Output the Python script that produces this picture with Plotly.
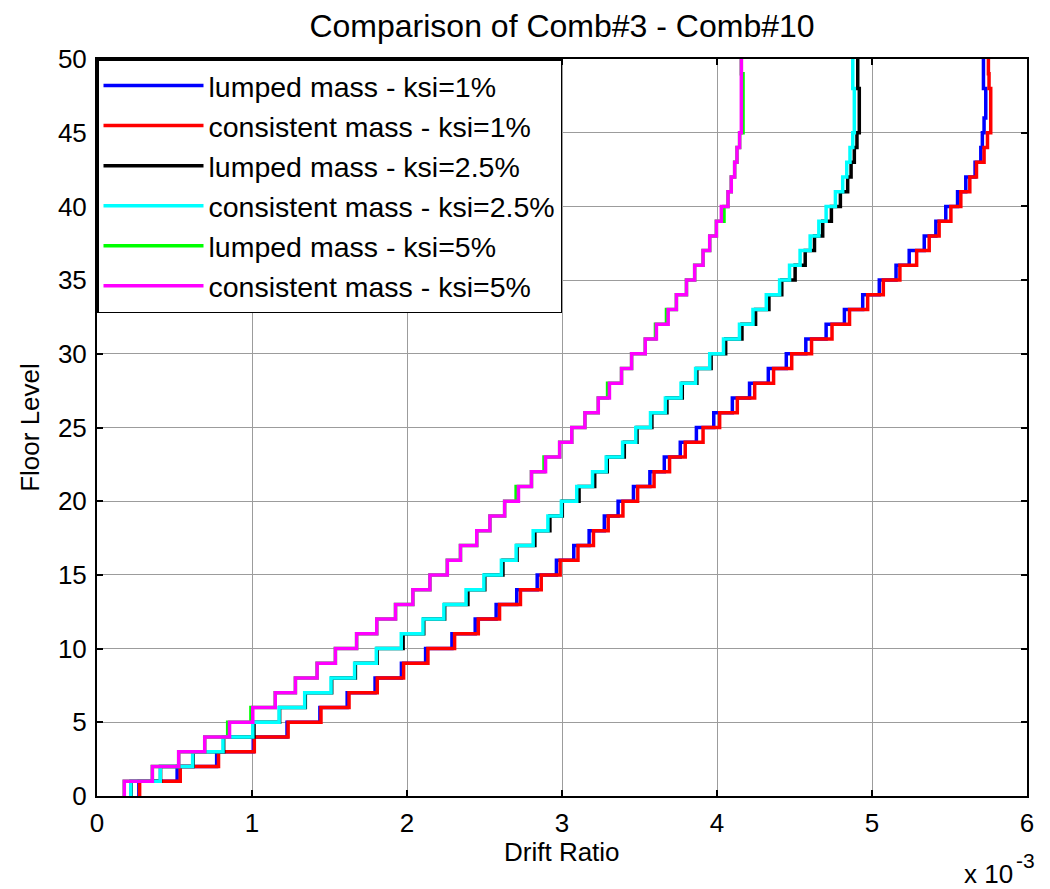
import plotly.graph_objects as go

# Story drift ratios (units of 1e-3) for stories 1..50
stories = list(range(1, 51))

lumped_1 = [0.270, 0.517, 0.772, 1.008, 1.226, 1.438, 1.614, 1.794, 1.964, 2.120,
            2.290, 2.440, 2.575, 2.708, 2.840, 2.964, 3.076, 3.175, 3.273, 3.362,
            3.461, 3.567, 3.660, 3.763, 3.867, 3.979, 4.099, 4.210, 4.331, 4.447,
            4.573, 4.704, 4.822, 4.940, 5.047, 5.155, 5.240, 5.337, 5.412, 5.476,
            5.552, 5.605, 5.665, 5.702, 5.712, 5.723, 5.734, 5.734, 5.719, 5.719]

consistent_1 = [0.275, 0.537, 0.784, 1.015, 1.233, 1.445, 1.626, 1.808, 1.978, 2.135,
                2.307, 2.460, 2.597, 2.732, 2.866, 2.988, 3.103, 3.203, 3.298, 3.393,
                3.488, 3.594, 3.694, 3.795, 3.910, 4.017, 4.131, 4.243, 4.365, 4.482,
                4.610, 4.742, 4.855, 4.972, 5.073, 5.180, 5.288, 5.369, 5.433, 5.509,
                5.573, 5.631, 5.674, 5.723, 5.745, 5.766, 5.766, 5.766, 5.755, 5.751]

lumped_25 = [0.220, 0.410, 0.620, 0.817, 1.013, 1.178, 1.344, 1.514, 1.667, 1.807,
             1.975, 2.108, 2.243, 2.393, 2.502, 2.619, 2.710, 2.825, 2.922, 3.002,
             3.110, 3.211, 3.292, 3.402, 3.484, 3.580, 3.677, 3.776, 3.870, 3.962,
             4.056, 4.161, 4.249, 4.335, 4.418, 4.504, 4.569, 4.629, 4.682, 4.738,
             4.796, 4.843, 4.865, 4.886, 4.903, 4.918, 4.918, 4.918, 4.908, 4.908]

consistent_25 = [0.218, 0.408, 0.617, 0.813, 1.005, 1.175, 1.340, 1.510, 1.662, 1.802,
                 1.963, 2.103, 2.238, 2.381, 2.496, 2.609, 2.704, 2.814, 2.909, 2.996,
                 3.095, 3.197, 3.285, 3.391, 3.476, 3.571, 3.667, 3.768, 3.862, 3.953,
                 4.042, 4.145, 4.232, 4.318, 4.404, 4.468, 4.536, 4.601, 4.657, 4.704,
                 4.764, 4.811, 4.837, 4.858, 4.876, 4.886, 4.886, 4.886, 4.876, 4.876]

lumped_5 = [0.176, 0.357, 0.527, 0.695, 0.843, 0.993, 1.150, 1.280, 1.420, 1.538,
            1.675, 1.805, 1.926, 2.038, 2.148, 2.260, 2.345, 2.450, 2.535, 2.630,
            2.704, 2.803, 2.884, 2.985, 3.063, 3.148, 3.234, 3.294, 3.384, 3.449,
            3.537, 3.603, 3.674, 3.738, 3.803, 3.856, 3.910, 3.953, 3.996, 4.045,
            4.071, 4.092, 4.114, 4.129, 4.146, 4.168, 4.168, 4.168, 4.168, 4.157]

consistent_5 = [0.176, 0.357, 0.527, 0.695, 0.855, 1.005, 1.150, 1.280, 1.420, 1.538,
                1.675, 1.805, 1.926, 2.038, 2.148, 2.260, 2.345, 2.450, 2.535, 2.630,
                2.719, 2.803, 2.894, 2.985, 3.063, 3.148, 3.234, 3.306, 3.384, 3.449,
                3.537, 3.609, 3.685, 3.738, 3.803, 3.856, 3.910, 3.953, 3.996, 4.028,
                4.071, 4.092, 4.114, 4.129, 4.146, 4.157, 4.157, 4.157, 4.157, 4.157]

series_names = ["lumped mass - ksi=1%", "consistent mass - ksi=1%",
                "lumped mass - ksi=2.5%", "consistent mass - ksi=2.5%",
                "lumped mass - ksi=5%", "consistent mass - ksi=5%"]
series_values = [lumped_1, consistent_1, lumped_25, consistent_25, lumped_5, consistent_5]
series_colors = ["#0000FF", "#FF0000", "#000000", "#00FFFF", "#00FF00", "#FF00FF"]

x_ticks = [0, 1, 2, 3, 4, 5, 6]
y_ticks = [0, 5, 10, 15, 20, 25, 30, 35, 40, 45, 50]

FONT = "Liberation Sans, Arial, Helvetica, sans-serif"

# The page body has an 8px default margin, so the figure is sized to fit the window.
W, H = 1042, 881

fig = go.Figure()
for name, vals, col in zip(series_names, series_values, series_colors):
    xs = list(vals) + [vals[-1]]
    ys = [0] + stories
    fig.add_trace(go.Scatter(x=xs, y=ys, mode="lines", name=name,
                             line=dict(color=col, width=3.5, shape="vh")))

axis_common = dict(showline=True, linecolor="black", linewidth=2, mirror="allticks",
                   ticks="inside", ticklen=6, tickwidth=2, tickcolor="black",
                   showgrid=True, gridcolor="#9c9c9c", gridwidth=1, zeroline=False,
                   automargin=False,
                   tickfont=dict(family=FONT, size=26, color="black"))

fig.update_xaxes(range=[0, 6], tickvals=x_ticks, ticktext=[str(v) for v in x_ticks],
                 ticklabelstandoff=3,
                 **axis_common)
fig.update_yaxes(range=[0, 50], tickvals=y_ticks, ticktext=[str(v) for v in y_ticks],
                 ticklabelstandoff=3,
                 title=dict(text="Floor Level", font=dict(family=FONT, size=26, color="black"),
                            standoff=11),
                 **axis_common)

fig.update_layout(
    width=W, height=H,
    margin=dict(l=89, r=23, t=51, b=93),
    paper_bgcolor="white", plot_bgcolor="white",
    title=dict(text="Comparison of Comb#3 - Comb#10", x=0.5, xanchor="center",
               xref="paper", yref="container", y=1 - 18 / H, yanchor="middle",
               font=dict(family=FONT, size=32, color="black")),
    legend=dict(x=0, y=1, xanchor="left", yanchor="top", bgcolor="white",
                bordercolor="black", borderwidth=1.5, itemwidth=100,
                font=dict(family=FONT, size=28.5, color="black"), tracegroupgap=0),
    showlegend=True,
)

# x-axis title placed below the tick labels
fig.add_annotation(text="Drift Ratio", xref="paper", yref="paper",
                   x=0.5, y=-0.076, xanchor="center", yanchor="middle", showarrow=False,
                   font=dict(family=FONT, size=26, color="black"))

# "x 10^-3" exponent label at the lower right of the x axis
fig.add_annotation(text="x 10", xref="paper", yref="paper",
                   x=0.987, y=-0.1065, xanchor="right", yanchor="middle", showarrow=False,
                   font=dict(family=FONT, size=26, color="black"))
fig.add_annotation(text="-3", xref="paper", yref="paper",
                   x=0.986, y=-0.087, xanchor="left", yanchor="middle", showarrow=False,
                   font=dict(family=FONT, size=21, color="black"))

fig.write_html("out.html")
